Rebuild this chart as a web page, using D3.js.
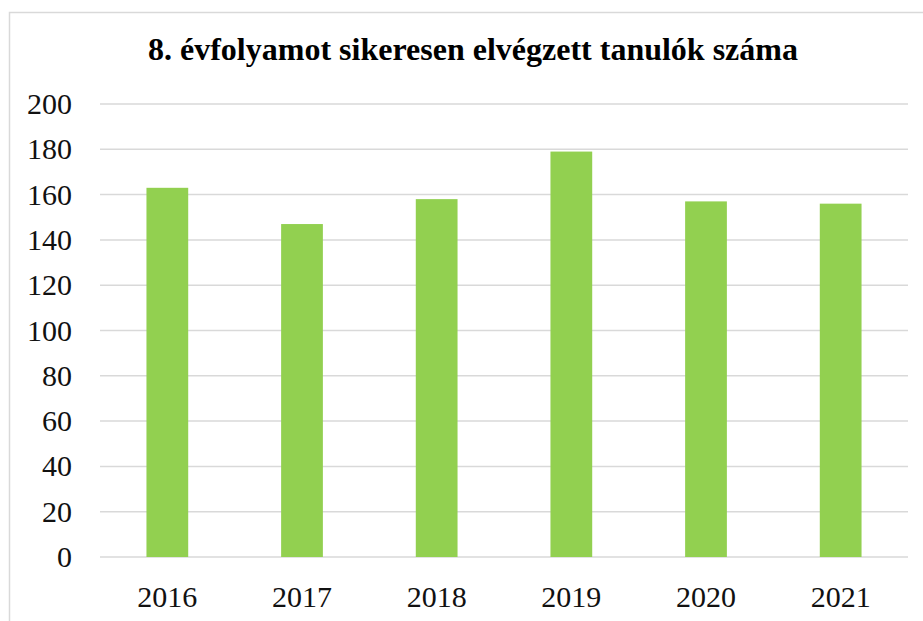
<!DOCTYPE html>
<html>
<head>
<meta charset="utf-8">
<script src="https://cdn.jsdelivr.net/npm/d3@7"></script>
<style>
  body { margin: 0; background: #ffffff; }
</style>
</head>
<body>
<svg id="chart" width="923" height="621"></svg>
<script>
// Successful 8th-grade completions per year, single-series column chart.

const years = ["2016", "2017", "2018", "2019", "2020", "2021"];
const students = [163, 147, 158, 179, 157, 156];
const yTicks = [0, 20, 40, 60, 80, 100, 120, 140, 160, 180, 200];
const title = "8. évfolyamot sikeresen elvégzett tanulók száma";

const serif = "'Times New Roman', 'Liberation Serif', 'DejaVu Serif', Tinos, serif";

function drawChart() {
  const svg = d3.select("#chart");
  const width = +svg.attr("width");
  const height = +svg.attr("height");

  const margin = { top: 104, right: 15, bottom: 64, left: 100 };

  // chart frame (only top and left edges show in the crop)
  svg.append("rect")
    .attr("x", 9.5)
    .attr("y", 12.5)
    .attr("width", width + 20)
    .attr("height", height + 20)
    .attr("fill", "#ffffff")
    .attr("stroke", "#d9d9d9")
    .attr("stroke-width", 1.5);

  svg.append("text")
    .attr("x", 148)
    .attr("y", 60)
    .style("font-family", serif)
    .attr("font-size", 31)
    .attr("font-weight", "bold")
    .attr("fill", "#000000")
    .attr("textLength", 650)
    .attr("lengthAdjust", "spacingAndGlyphs")
    .text(title);

  const x = d3.scaleBand()
    .domain(years)
    .range([margin.left, width - margin.right])
    .paddingInner(0.69)
    .paddingOuter(0.345);

  const y = d3.scaleLinear()
    .domain([0, 200])
    .range([height - margin.bottom, margin.top]);

  // gridlines
  svg.append("g")
    .selectAll("line")
    .data(yTicks)
    .join("line")
    .attr("x1", margin.left)
    .attr("x2", width - margin.right)
    .attr("y1", d => y(d))
    .attr("y2", d => y(d))
    .attr("stroke", "#d9d9d9")
    .attr("stroke-width", 1.5);

  // y labels
  svg.append("g")
    .selectAll("text")
    .data(yTicks)
    .join("text")
    .attr("x", 72)
    .attr("y", d => y(d) + 10)
    .attr("text-anchor", "end")
    .style("font-family", serif)
    .attr("font-size", 30)
    .attr("fill", "#111111")
    .text(d => d);

  svg.append("g")
    .selectAll("rect")
    .data(years.map((yr, i) => ({ year: yr, value: students[i] })))
    .join("rect")
    .attr("x", d => x(d.year))
    .attr("y", d => y(d.value))
    .attr("width", x.bandwidth())
    .attr("height", d => y(0) - y(d.value))
    .attr("fill", "#92d050");

  // x labels
  svg.append("g")
    .selectAll("text")
    .data(years)
    .join("text")
    .attr("x", d => x(d) + x.bandwidth() / 2)
    .attr("y", 607)
    .attr("text-anchor", "middle")
    .style("font-family", serif)
    .attr("font-size", 30)
    .attr("fill", "#111111")
    .text(d => d);
}

drawChart();
</script>
</body>
</html>
